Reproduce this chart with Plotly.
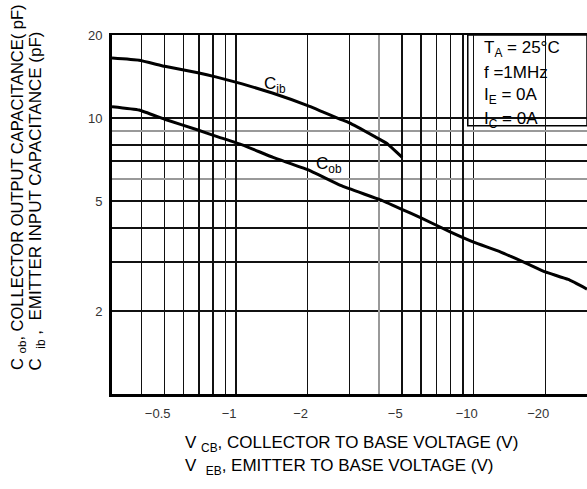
import math
import plotly.graph_objects as go

# Reverse-bias voltage magnitude (V) and capacitance (pF) for each curve
cib_v = [0.3, 0.39, 0.5, 0.69, 0.82, 1.06, 1.43, 2.0, 2.75, 3.0, 3.8, 4.3, 5.0]
cib_pf = [16.5, 16.2, 15.4, 14.6, 14.1, 13.3, 12.3, 11.1, 9.9, 9.6, 8.6, 8.1, 7.2]
cob_v = [0.3, 0.39, 0.5, 0.69, 0.82, 1.06, 1.43, 2.0, 2.75, 4.05, 4.9, 6.0, 8.0,
         10, 13, 16.6, 20, 25, 30]
cob_pf = [11.0, 10.7, 9.9, 9.05, 8.6, 8.0, 7.2, 6.5, 5.7, 5.05, 4.7, 4.35, 3.86,
          3.55, 3.27, 2.98, 2.77, 2.6, 2.4]

# Tick labels
x_ticks = [0.5, 1, 2, 5, 10, 20]
x_tick_text = ["\u22120.5", "\u22121", "\u22122", "\u22125", "\u221210", "\u221220"]
y_ticks = [2, 5, 10, 20]
y_tick_text = ["2", "5", "10", "20"]

# Log grid lines (thin, heavy and grey groups)
x_grid_thin = [0.4, 0.5, 0.6, 0.9, 2, 3, 7, 8, 10, 20]
x_grid_thick = [0.7, 0.8, 1, 5, 6, 9]
x_grid_gray = [4]
y_grid_thin = [2, 3, 4, 5, 7, 8, 10]
y_grid_gray = [6, 9]

# Test-condition lines in the boxed note
conditions = ["T<sub>A</sub> = 25°C", "f =1MHz", "I<sub>E</sub> = 0A", "I<sub>C</sub> = 0A"]

x_range = [math.log10(0.3), math.log10(30)]
y_range = [0, math.log10(20)]

FONT = "Liberation Sans, Arial, sans-serif"
curve_line = dict(color="black", width=3, shape="spline", smoothing=0.35)

fig = go.Figure()
fig.add_trace(go.Scatter(x=cib_v, y=cib_pf, mode="lines", line=curve_line,
                         showlegend=False, hoverinfo="skip"))
fig.add_trace(go.Scatter(x=cob_v, y=cob_pf, mode="lines", line=curve_line,
                         showlegend=False, hoverinfo="skip"))

tick_font = dict(family=FONT, size=13, color="#333")

fig.update_layout(
    width=587, height=489,
    margin=dict(l=112, r=0, t=35, b=95),
    paper_bgcolor="white", plot_bgcolor="white",
    font=dict(family=FONT, color="black"),
    showlegend=False,
    xaxis=dict(
        type="log", range=x_range, fixedrange=True,
        tickvals=x_ticks, ticktext=x_tick_text, tickfont=tick_font,
        ticks="", ticklabelshift=-7, ticklabelstandoff=5,
        showgrid=False, zeroline=False,
        showline=True, linecolor="black", linewidth=3,
        minor=dict(tickvals=x_grid_thin, showgrid=True, gridcolor="#111", gridwidth=1.3, ticks=""),
    ),
    yaxis=dict(
        type="log", range=y_range, fixedrange=True,
        tickvals=y_ticks, ticktext=y_tick_text, tickfont=tick_font,
        ticks="", ticklabelstandoff=4,
        showgrid=False, zeroline=False,
        showline=True, linecolor="black", linewidth=3,
        minor=dict(tickvals=y_grid_thin, showgrid=True, gridcolor="#111", gridwidth=1.5, ticks=""),
    ),
    xaxis2=dict(
        type="log", range=x_range, overlaying="x", side="top", fixedrange=True,
        tickvals=x_grid_thick, showticklabels=False, ticks="",
        showgrid=True, gridcolor="#111", gridwidth=2.4, zeroline=False,
        showline=True, linecolor="black", linewidth=2,
        minor=dict(tickvals=x_grid_gray, showgrid=True, gridcolor="#999", gridwidth=1.5, ticks=""),
    ),
    yaxis2=dict(
        type="log", range=y_range, overlaying="y", side="right", fixedrange=True,
        tickvals=[], showticklabels=False, ticks="",
        showgrid=False, zeroline=False,
        showline=True, linecolor="black", linewidth=2,
        minor=dict(tickvals=y_grid_gray, showgrid=True, gridcolor="#999", gridwidth=2, ticks=""),
    ),
)

# Empty trace so the overlay axes are laid out
fig.add_trace(go.Scatter(x=[], y=[], xaxis="x2", yaxis="y2", showlegend=False))

# White panels behind the condition box and the C_ob label
fig.add_shape(type="rect", xref="paper", yref="paper", x0=0.749, x1=1.0, y0=0.747, y1=1.0,
              fillcolor="white", line=dict(color="black", width=1.5), layer="between")
fig.add_shape(type="rect", xref="paper", yref="paper", x0=0.392, x1=0.501, y0=0.607, y1=0.680,
              fillcolor="white", line=dict(width=0), layer="between")

# Test conditions, one line each
for i, line_text in enumerate(conditions):
    fig.add_annotation(xref="paper", yref="paper", x=0.779, y=0.962 - i * 0.0665,
                       xanchor="left", yanchor="middle", align="left", showarrow=False,
                       text=line_text, font=dict(family=FONT, size=17, color="black"))

# Curve labels (log-axis annotation coordinates)
fig.add_annotation(x=math.log10(1.46), y=math.log10(13.2), showarrow=False,
                   text="C<sub>ib</sub>", font=dict(family=FONT, size=17, color="black"))
fig.add_annotation(x=math.log10(2.47), y=math.log10(6.76), showarrow=False,
                   text="C<sub>ob</sub>", font=dict(family=FONT, size=17, color="black"))

# Axis titles
title_font = dict(family=FONT, size=17, color="black")
fig.add_annotation(xref="paper", yref="paper", x=0.149, y=-0.14, xanchor="left", yanchor="middle",
                   showarrow=False, align="left",
                   text="V <sub>CB</sub>, COLLECTOR TO BASE VOLTAGE (V)", font=title_font)
fig.add_annotation(xref="paper", yref="paper", x=0.149, y=-0.203, xanchor="left", yanchor="middle",
                   showarrow=False, align="left",
                   text="V  <sub>EB</sub>, EMITTER TO BASE VOLTAGE (V)", font=title_font)
fig.add_annotation(xref="paper", yref="paper", x=-0.198, y=0.0613, xanchor="center", yanchor="bottom",
                   showarrow=False, textangle=-90,
                   text="C <sub>ob</sub>, COLLECTOR OUTPUT CAPACITANCE( pF)",
                   font=dict(family=FONT, size=16.5, color="black"))
fig.add_annotation(xref="paper", yref="paper", x=-0.156, y=0.0613, xanchor="center", yanchor="bottom",
                   showarrow=False, textangle=-90,
                   text="C  <sub>ib</sub> ,  EMITTER INPUT CAPACITANCE (pF)", font=title_font)

fig.write_html("out.html")
